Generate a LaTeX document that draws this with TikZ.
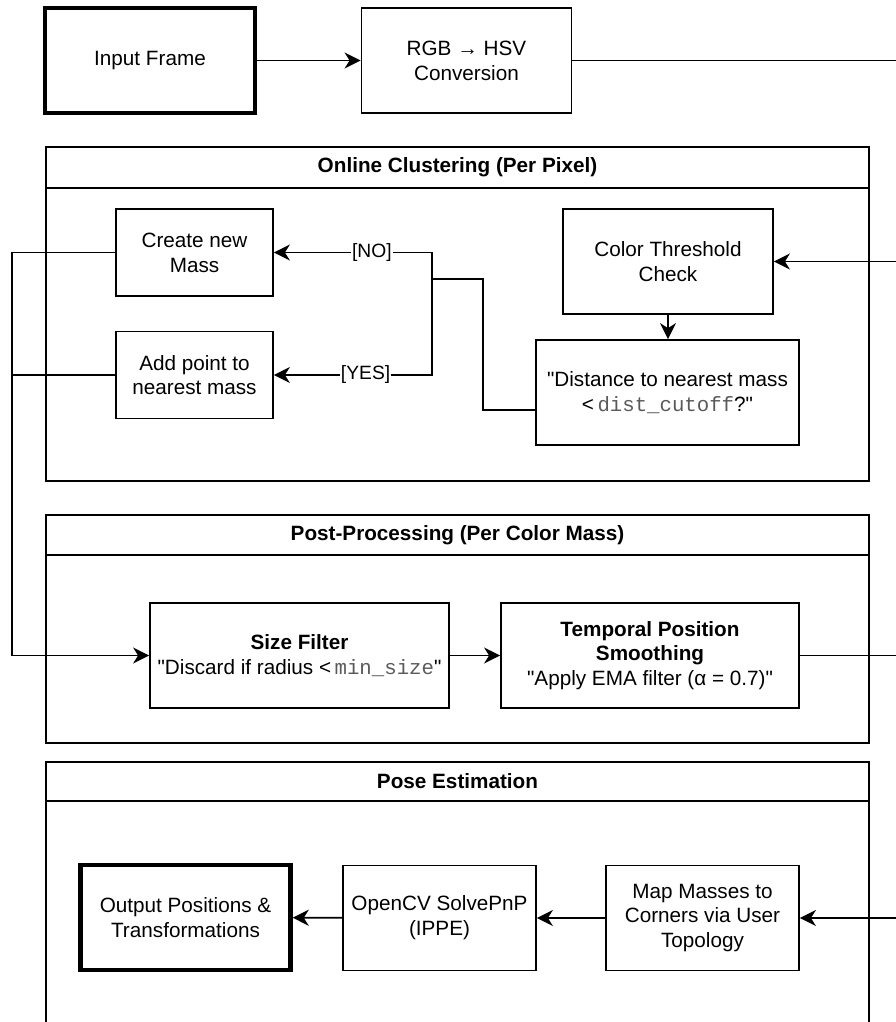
\documentclass[tikz,border=0pt]{standalone}
\usepackage{fontspec}
\setmainfont{Liberation Sans}[Ligatures=TeXOff]
\newfontfamily\codefont{Liberation Mono}[Ligatures=TeXOff]
\usepackage{xcolor}
\usetikzlibrary{calc,arrows.meta}
\definecolor{codegray}{RGB}{90,90,90}
\newcommand{\code}[1]{{\codefont\color{codegray}#1}}

\begin{document}
\begin{tikzpicture}[x=1pt,y=-1pt,line width=1.8pt]
        \tikzstyle{every node}=[font=\fontsize{20.7}{24.8}\selectfont, align=center, inner sep=0pt]
        \tikzstyle{box}=[draw, rectangle, minimum width=210pt, minimum height=105pt]
        \tikzstyle{thickbox}=[box, line width=4.5pt]
        \tikzstyle{head}=[font=\fontsize{20.7}{24.8}\selectfont\bfseries]
        \tikzstyle{lbl}=[fill=white, font=\fontsize{19.25}{23}\selectfont, inner sep=1pt]
        \tikzstyle{arr}=[-{Stealth[length=16pt,width=16pt,inset=5pt]}]

        \useasboundingbox (0,0) rectangle (896,1022);
        \clip (0,0) rectangle (896,1022);
        \coordinate (redge) at (896,0);
        \coordinate (lrail) at (12,0);

            % groups
            \draw (46,147) rectangle (869,481);
            \draw (46,188) -- (869,188);
            \node[head] (clusterhead) at (457.5,167.5) {Online Clustering (Per Pixel)};

            \draw (46,515) rectangle (869,743);
            \draw (46,555) -- (869,555);
            \node[head] (posthead) at (457.5,535) {Post-Processing (Per Color Mass)};

            \draw (46,762) rectangle (869,1040);
            \draw (46,801) -- (869,801);
            \node[head] (posehead) at (457.5,781.5) {Pose Estimation};

            % top row
            \node[thickbox] (input) at (150,60.5) {Input Frame};
            \node[box] (rgb) at ($(input)+(316.5,0)$) {RGB → HSV\\Conversion};

            % clustering
            \node[box, minimum width=157pt, minimum height=87pt] (create) at (194.5,252.5) {Create new\\Mass};
            \node[box, minimum width=157pt, minimum height=87pt] (addpt) at ($(create)+(0,122.5)$) {Add point to\\nearest mass};
            \node[box] (color) at (668,261.5) {Color Threshold\\Check};
            \node[box, minimum width=263pt] (dist) at (667.5,392.5) {"Distance to nearest mass\\<\,\code{dist\_cutoff}?"};

            % post-processing
            \node[box, minimum width=299pt] (sizef) at (299.5,655.5) {\textbf{Size Filter}\\"Discard if radius <\,\code{min\_size}"};
            \node[box, minimum width=298pt] (temporal) at ($(sizef)+(350.5,0)$) {\textbf{Temporal Position}\\\textbf{Smoothing}\\"Apply EMA filter (α = 0.7)"};

            % pose
            \node[thickbox] (output) at (185.5,917.5) {Output Positions \&\\Transformations};
            \node[box, minimum width=193pt] (opencv) at (439.5,918) {OpenCV SolvePnP\\(IPPE)};
            \node[box, minimum width=193pt] (mapm) at ($(opencv)+(263,0)$) {Map Masses to\\Corners via User\\Topology};

            \coordinate (fork) at (432,279);
            \coordinate (bend) at (483,279);
            \coordinate (distin) at ($(dist.west)+(0,17.5)$);

            \draw[arr] (input) -- (rgb);
            \draw (rgb.east) -- (rgb.east -| redge);
            \draw[arr] (color.east -| redge) -- (color.east);
            \draw[arr] (color.south) -- (color.south |- dist.north);
            \draw (distin) -| (bend) -- (fork);
            \draw[arr] (fork) |- (create.east) node[lbl, pos=0.69] (nolbl) {[NO]};
            \draw[arr] (fork) |- (addpt.east) node[lbl, pos=0.71] (yeslbl) {[YES]};
            \draw[arr] (create.west) -- (create.west -| lrail) |- (sizef.west);
            \draw (addpt.west) -- (addpt.west -| lrail);
            \draw[arr] (sizef) -- (temporal);
            \draw (temporal.east) -- (temporal.east -| redge);
            \draw[arr] (mapm.east -| redge) -- (mapm.east);
            \draw[arr] (mapm) -- (opencv);
            \draw[arr] (opencv) -- (output);

        \end{tikzpicture}
\end{document}
